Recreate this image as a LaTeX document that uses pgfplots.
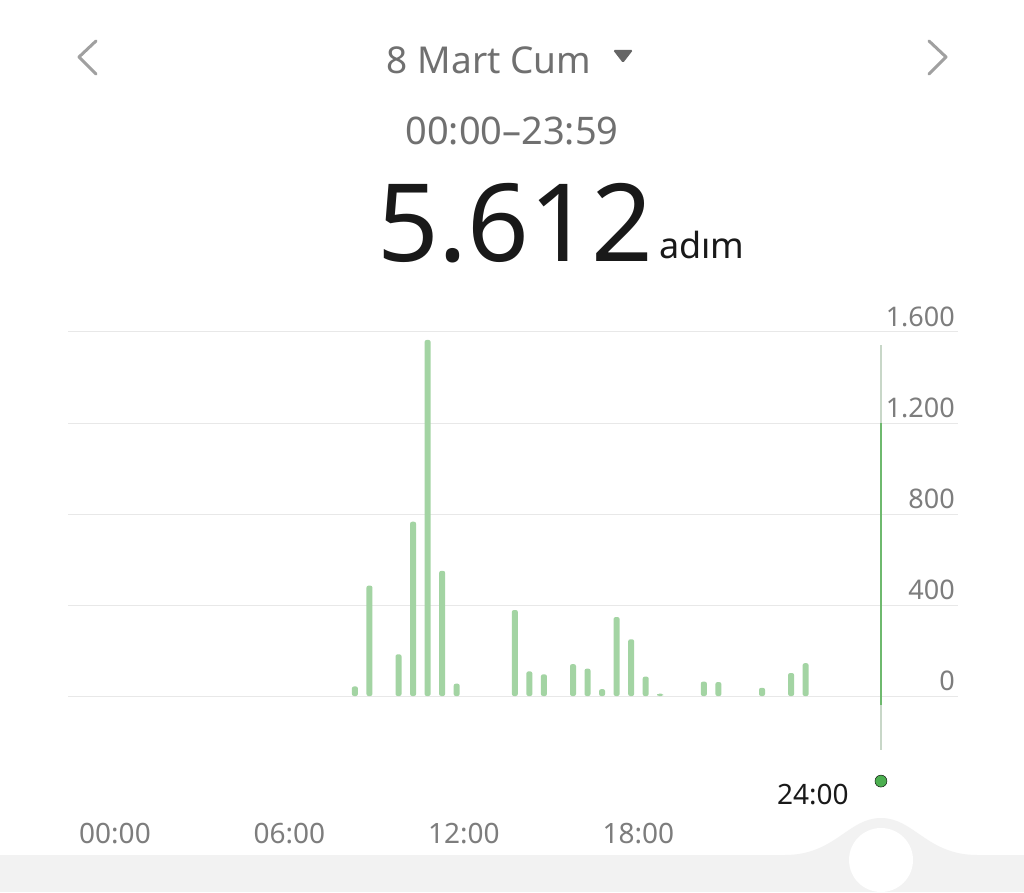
\documentclass[border=0pt]{standalone}
\usepackage{pgfplots}
\pgfplotsset{compat=1.18}
\usepackage{fontspec}
\setmainfont{Noto Sans}
\definecolor{bargreen}{RGB}{163,212,163}
\definecolor{gridgray}{RGB}{232,232,232}
\definecolor{bandgray}{RGB}{242,242,242}
\definecolor{chevgray}{RGB}{160,160,160}
\definecolor{titlegray}{RGB}{112,112,112}
\definecolor{tickgray}{RGB}{125,125,125}
\definecolor{cursorgreen}{RGB}{110,185,110}
\definecolor{cursorlight}{RGB}{200,215,200}
\definecolor{dotgreen}{RGB}{76,175,80}
\begin{document}
\begin{tikzpicture}
\useasboundingbox (0,0) rectangle (1024pt,892pt);
\fill[white] (0,0) rectangle (1024pt,892pt);
% bottom band with bump and handle
\fill[bandgray] (0,0) rectangle (1024pt,37pt);
\fill[bandgray] (785pt,37pt) .. controls (835pt,37pt) and (848pt,74pt) .. (881pt,74pt) .. controls (914pt,74pt) and (927pt,37pt) .. (977pt,37pt) -- cycle;
\fill[white] (881pt,32pt) circle (32pt);
% chevrons
\draw[chevgray, line width=3pt, line cap=round, line join=round] (96pt,851pt) -- (79pt,835pt) -- (96pt,818pt);
\draw[chevgray, line width=3pt, line cap=round, line join=round] (929pt,851pt) -- (946pt,835pt) -- (929pt,818pt);
% header
\node[anchor=base, inner sep=0pt, text=titlegray] at (489pt,818pt) {\fontsize{37}{40}\selectfont 8 Mart Cum};
\fill[titlegray!90!black, rounded corners=1.5pt] (613pt,842pt) -- (633pt,842pt) -- (623pt,829pt) -- cycle;
\node[anchor=base, inner sep=0pt, text=titlegray] at (512pt,747pt) {\fontsize{38}{42}\selectfont 00:00–23:59};
\node[anchor=base west, inner sep=0pt, text=black!90] at (377pt,630pt) {\fontsize{108}{112}\selectfont 5.612};
\node[anchor=base west, inner sep=0pt, text=black!90] at (659pt,633pt) {\fontsize{36}{40}\selectfont adım};
% chart
\begin{axis}[
  at={(68pt,196pt)}, anchor=south west,
  scale only axis, width=890pt, height=364pt,
  xmin=-1.616, xmax=28.99, ymin=0, ymax=1600,
  clip=false,
  axis line style={draw=none},
  major tick style={draw=none}, minor tick style={draw=none},
  ymajorgrids, major grid style={color=gridgray, line width=1pt},
  ytick={0,400,800,1200,1600},
  yticklabels={0,400,800,1.200,1.600},
  yticklabel pos=right,
  yticklabel style={anchor=south east, inner sep=0pt, xshift=-3pt, yshift=5pt,
    text=tickgray, font=\fontsize{27}{30}\selectfont},
  xtick={0,6,12,18},
  xticklabels={00:00,06:00,12:00,18:00},
  xticklabel style={anchor=base, inner sep=0pt, yshift=-147pt,
    text=tickgray, font=\fontsize{28}{30}\selectfont},
]
\addplot[ybar, bar width=6pt, fill=bargreen, draw=none, rounded corners=2pt] coordinates {
(8.25,42) (8.75,485) (9.75,183) (10.25,766) (10.75,1565) (11.25,550) (11.75,54)
(13.75,378) (14.25,108) (14.75,95) (15.75,140) (16.25,120) (16.75,30)
(17.25,347) (17.75,249) (18.25,85) (18.75,10)
(20.25,63) (20.75,61) (22.25,36) (23.25,101) (23.75,144)
};
% cursor line and dot
\addplot[draw=cursorlight, line width=1.2pt] coordinates {(26.34,-237) (26.34,1545)};
\addplot[draw=cursorgreen, line width=1.2pt] coordinates {(26.34,-40) (26.34,1200)};
\addplot[only marks, mark=*, mark size=6pt, mark options={fill=dotgreen, draw=none}] coordinates {(26.34,-374)};
\node[anchor=base, inner sep=0pt, text=black!90] at (axis cs:24,-475) {\fontsize{28}{30}\selectfont 24:00};
\end{axis}
\end{tikzpicture}
\end{document}
